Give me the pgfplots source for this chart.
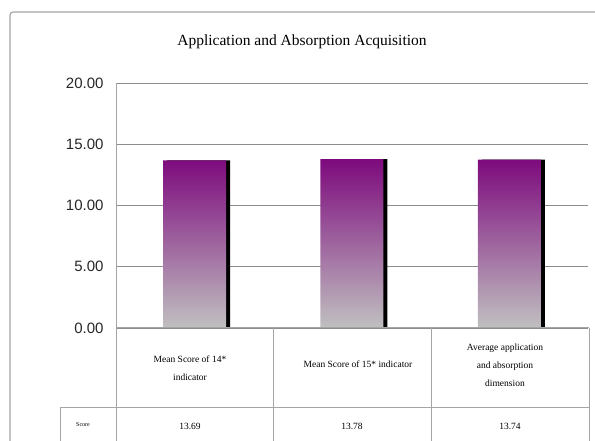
\documentclass[border=0pt]{standalone}
\usepackage{fontspec}
\setmainfont{Liberation Serif}
\newfontfamily\sansf{Liberation Sans}
\usepackage{pgfplots}
\pgfplotsset{compat=1.18}
\definecolor{barpurple}{RGB}{125,10,125}
\definecolor{bargray}{RGB}{192,192,192}
\definecolor{framegray}{RGB}{165,165,165}
\definecolor{gridgray}{RGB}{140,140,140}

\begin{document}
\begin{tikzpicture}[x=1pt,y=1pt]
\useasboundingbox (0,0) rectangle (595,441);
% outer frame
\draw[framegray, line width=1.2pt, rounded corners=3pt] (10,-2) -- (10,429) -- (597,429);
\node[font=\fontsize{15.5}{18}\selectfont] at (302,399) {Application and Absorption Acquisition};
\begin{axis}[at={(116pt,113pt)}, anchor=south west, scale only axis,
  width=472pt, height=245pt,
  xmin=-0.5, xmax=2.5, ymin=0, ymax=20,
  ytick={0,5,10,15,20}, xtick=\empty,
  ymajorgrids, grid style={gridgray, line width=0.9pt},
  axis line style={draw=none}, major tick length=0pt,
  /pgf/number format/assume math mode=true,
  yticklabel style={font=\sansf\fontsize{15}{18}\selectfont, text=black!85, xshift=-9pt},
  yticklabel={\pgfmathprintnumber[fixed,fixed zerofill,precision=2]{\tick}},
  clip=false, ybar, bar width=63pt]
% shadow
\addplot[draw=none, fill=black, bar shift=4pt] coordinates {(0,13.69) (1,13.78) (2,13.74)};
% bars
\addplot[draw=none, top color=barpurple, bottom color=bargray, bar shift=0pt] coordinates {(0,13.69) (1,13.78) (2,13.74)};
\end{axis}
% data table under the axis
\begin{scope}[framegray, line width=1pt]
\draw (116,358) -- (116,-2);
\draw (116,113) -- (589,113);
\draw (273,113) -- (273,-2);
\draw (431,113) -- (431,-2);
\draw (589,113) -- (589,-2);
\draw (60,33) -- (589,33);
\draw (60,33) -- (60,-2);
\end{scope}
\begin{scope}[every node/.style={font=\fontsize{9.5}{18}\selectfont, align=center}]
\node at (190,73) {Mean Score of 14*\\indicator};
\node at (358,77) {Mean Score of 15* indicator};
\node at (505,76) {Average application\\and absorption\\dimension};
\node at (190,15) {13.69};
\node at (352,15) {13.78};
\node at (510,15) {13.74};
\node[font=\fontsize{6}{7}\selectfont] at (83,16) {Score};
\end{scope}
\end{tikzpicture}
\end{document}
